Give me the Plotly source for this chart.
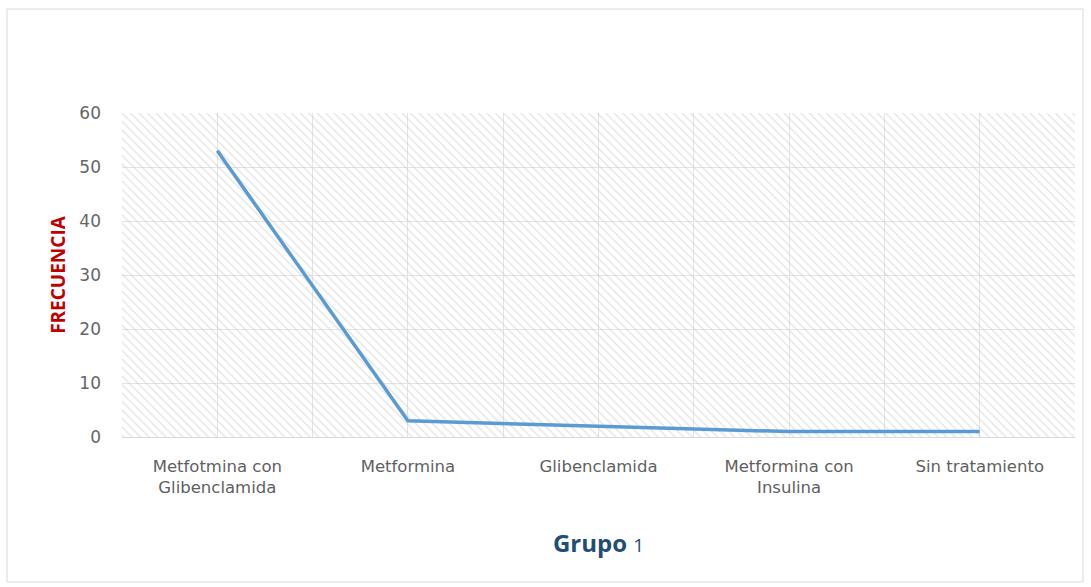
import plotly.graph_objects as go

categories = ["Metfotmina con<br>Glibenclamida", "Metformina", "Glibenclamida",
              "Metformina con<br>Insulina", "Sin tratamiento"]
frecuencia = [53, 3, 2, 1, 1]
y_ticks = [0, 10, 20, 30, 40, 50, 60]
y_max = 60

n = len(categories)
xs = list(range(n))

fig = go.Figure()

# hatched plot-area background
fig.add_trace(go.Bar(
    x=[(n - 1) / 2], y=[y_max], width=[n], base=0,
    marker=dict(color="rgba(0,0,0,0)", line=dict(width=0),
                pattern=dict(shape="\\", fgcolor="#C8C8C8", bgcolor="rgba(0,0,0,0)",
                             size=6, solidity=0.22)),
    hoverinfo="skip", showlegend=False,
))

fig.add_trace(go.Scatter(
    x=xs, y=frecuencia, mode="lines",
    line=dict(color="#5B9BD5", width=3.5),
    showlegend=False,
))

fig.update_layout(
    width=1091, height=587,
    margin=dict(l=122, r=16, t=113, b=150),
    paper_bgcolor="white", plot_bgcolor="white",
    font=dict(family="DejaVu Sans", color="#595959"),
    bargap=0,
    xaxis=dict(
        range=[-0.5, n - 0.5],
        tickmode="array", tickvals=xs, ticktext=categories,
        tickfont=dict(family="DejaVu Sans", size=16.5, color="#5F5F5F"),
        showgrid=True, gridcolor="#E3E3E3", gridwidth=1,
        minor=dict(showgrid=True, dtick=1, tick0=-0.5, gridcolor="#E3E3E3", gridwidth=1),
        showline=True, linecolor="#D9D9D9", linewidth=1,
        ticks="", zeroline=False, ticklabelstandoff=14,
        title=dict(text="<b>Grupo</b> <span style='font-size:19px'>1</span>",
                   font=dict(family="Open Sans", size=24, color="#1F4E79"), standoff=38),
    ),
    yaxis=dict(
        range=[0, y_max], tickmode="array", tickvals=y_ticks,
        tickfont=dict(family="DejaVu Sans", size=17, color="#666666"),
        showgrid=True, gridcolor="#E3E3E3", gridwidth=1,
        zeroline=False, ticks="", ticklabelstandoff=20,
        title=dict(text="<b>FRECUENCIA</b>", font=dict(family="Open Sans", size=19, color="#C00000"),
                   standoff=8),
    ),
    shapes=[dict(type="rect", xref="paper", yref="paper",
                 x0=(7 - 122) / 953, x1=(1083 - 122) / 953,
                 y0=(437 - 582) / 324, y1=(437 - 9) / 324,
                 line=dict(color="#D9D9D9", width=1), fillcolor="rgba(0,0,0,0)", layer="below")],
)

fig.write_html("out.html")
